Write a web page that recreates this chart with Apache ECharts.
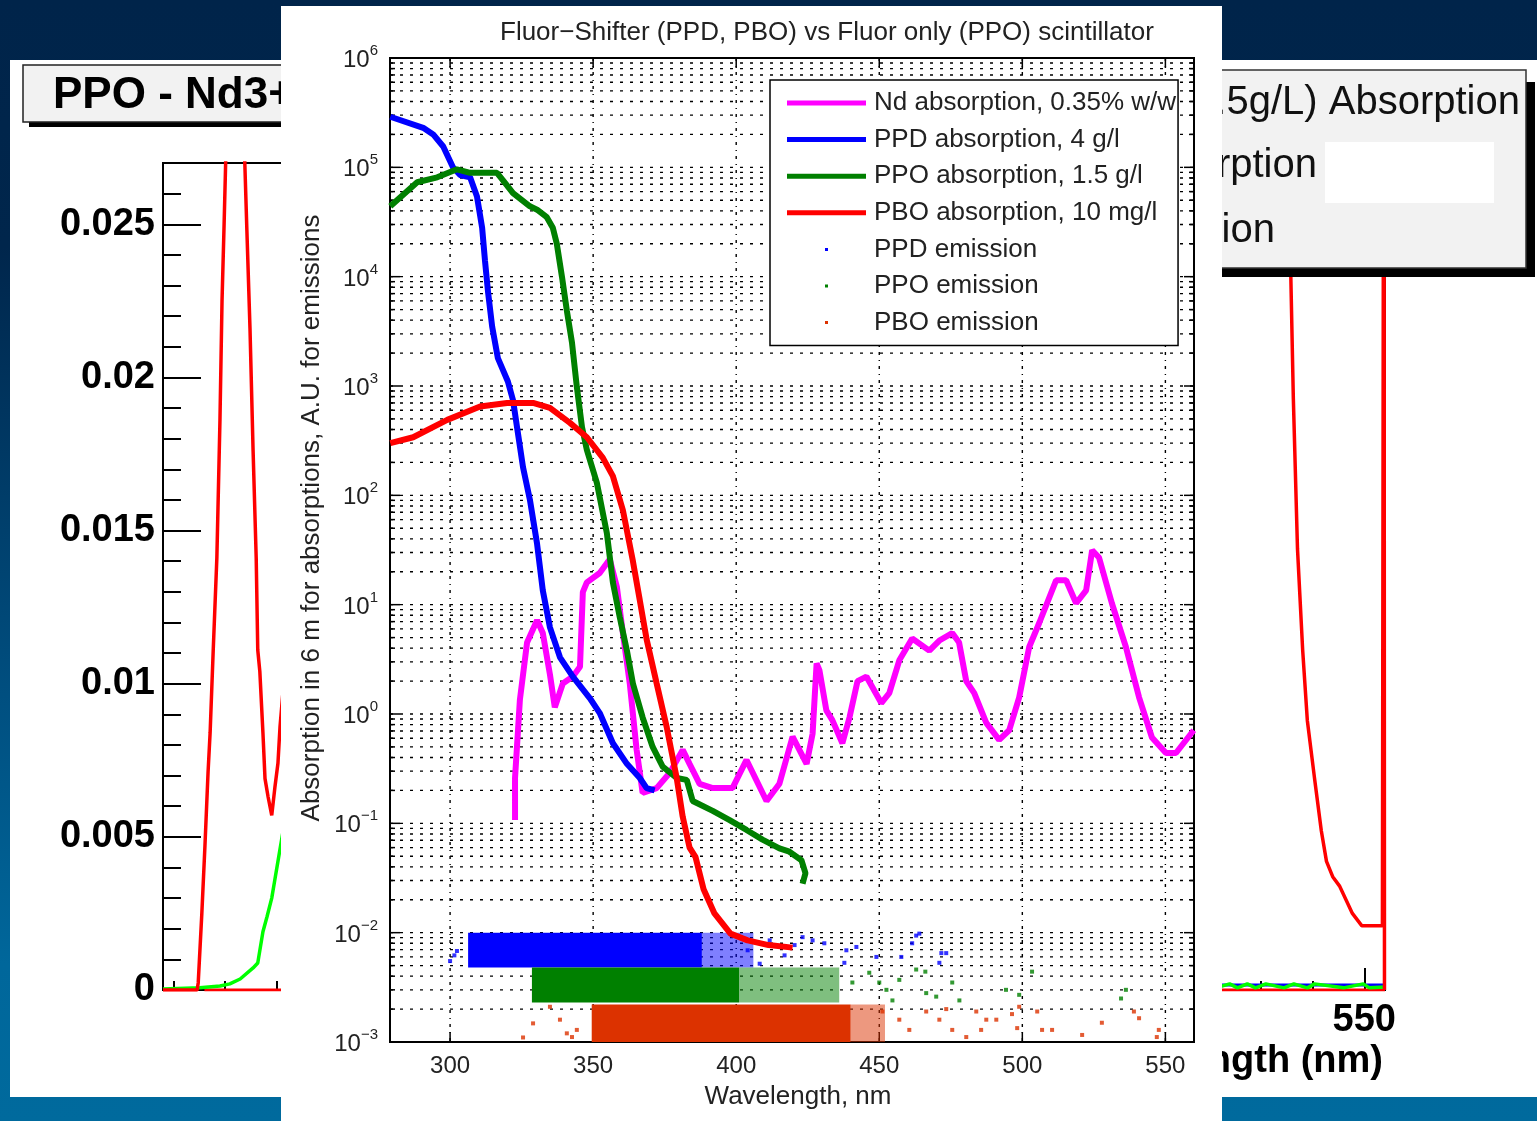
<!DOCTYPE html>
<html>
<head>
<meta charset="utf-8">
<title>Fluor-Shifter vs Fluor only scintillator</title>
<script src="https://cdn.jsdelivr.net/npm/echarts@6/dist/echarts.min.js"></script>
<style>
  html, body { margin: 0; padding: 0; }
  body {
    width: 1537px; height: 1121px; overflow: hidden; position: relative;
    background: linear-gradient(to bottom, #00244a 0%, #00264c 22%, #004f80 62%, #00679b 86%, #006a9d 100%);
  }
  #back { position: absolute; left: 10px; top: 60px; width: 1527px; height: 1037px; background: #fff; }
  #front { position: absolute; left: 281px; top: 6px; width: 941px; height: 1115px; background: #fff; }
</style>
</head>
<body>
<div id="back"></div>
<div id="front"></div>
<script>
// Fuentes disponibles sin red
const FONT = "'Liberation Sans', Arial, Helvetica, sans-serif";

// ---------- Gráfica del fondo (PPO - Nd3+, escala lineal) ----------
const backNdRed = [
  [318, 0], [324.6, 0], [324.8, 0.00023], [325.5, 0.0025], [326.1, 0.0047], [326.7, 0.0071],
  [327.1, 0.0084], [327.7, 0.0111], [328.4, 0.0141], [329.0, 0.0186], [329.4, 0.0225],
  [329.8, 0.025], [330.4, 0.029], [331.5, 0.034], [333.0, 0.031], [333.8, 0.027],
  [334.2, 0.0248], [334.8, 0.0216], [335.4, 0.0176], [336.0, 0.0141], [336.3, 0.0111],
  [336.7, 0.0104], [337.3, 0.0084], [337.7, 0.0069], [338.3, 0.0063], [339.0, 0.0057],
  [339.6, 0.0066], [340.2, 0.0074], [340.6, 0.0086], [341.2, 0.0098], [345, 0.02],
  [522, 0.04], [535.4, 0.03], [535.8, 0.0234], [536.3, 0.0193], [537.1, 0.0144],
  [538.1, 0.0111], [539.0, 0.0088], [540.4, 0.0069], [541.7, 0.0052], [542.7, 0.0042],
  [543.9, 0.0037], [545.2, 0.0034], [546.6, 0.0029], [547.7, 0.0025], [549.5, 0.0021],
  [553.5, 0.0021], [553.8, 0.04], [553.9, 0]
];
const backGreen = [
  [318, 0.00003], [325.1, 0.00007], [329.0, 0.00013], [330.9, 0.0002], [332.9, 0.00036],
  [335.4, 0.00072], [336.3, 0.00088], [337.3, 0.0019], [338.1, 0.0024], [339.0, 0.003],
  [339.6, 0.0036], [340.6, 0.0046], [342, 0.006], [420, 0.0004], [522, 0.0001],
  [524, 0.0002], [525.5, 0.00007], [527.4, 0.0002], [529, 0.00007], [531, 0.0002],
  [534.5, 0.00007], [536.4, 0.0002], [539, 0.00007], [540.4, 0.0002], [546, 0.00007],
  [549.8, 0.0002], [551, 0.00007], [554, 0.0001]
];
const backBlue = [[400, 0.00016], [554, 0.00016]];
const backRedBase = [[326, 0], [554, 0]];
const backYTicks = [0, 0.005, 0.01, 0.015, 0.02, 0.025];
const backXTicks = [350, 400, 450, 500, 550];

// ---------- Gráfica principal (escala logarítmica) ----------
const ndAbsorption = [
  [322.7, 0.107], [322.7, 0.26], [324.4, 1.35], [326.9, 4.5], [330.4, 7.2], [332.4, 5.5],
  [334.9, 2.3], [336.6, 1.15], [339.4, 1.9], [342.9, 2.2], [345.4, 2.7], [346.4, 13],
  [347.8, 16], [352.3, 19.5], [355.8, 26], [358.3, 14.5], [360.4, 5.5], [362.8, 1.9],
  [365.2, 0.47], [367.3, 0.19], [372.2, 0.21], [376.8, 0.29], [381.3, 0.47], [383.7, 0.35],
  [387.2, 0.23], [391.8, 0.21], [398.7, 0.21], [403.6, 0.38], [410.6, 0.16], [415.1, 0.23],
  [419.7, 0.62], [424.6, 0.35], [426.7, 0.66], [428.1, 2.9], [429.1, 2.5], [431.5, 1.08],
  [433.6, 0.88], [437.1, 0.54], [439.6, 0.93], [442.4, 2.0], [445.5, 2.2], [450.7, 1.26],
  [453.5, 1.55], [457.0, 3.1], [461.5, 4.9], [467.5, 3.8], [471.0, 4.7], [475.5, 5.5],
  [477.9, 4.5], [480.4, 2.0], [483.2, 1.55], [487.4, 0.83], [491.9, 0.58], [495.4, 0.71],
  [498.9, 1.42], [502.4, 4.1], [505.9, 6.8], [511.8, 16.7], [515.3, 16.7], [518.8, 10.3],
  [522.3, 13.5], [524.4, 31.5], [526.8, 27], [531.3, 10.3], [536.2, 4.1], [540.8, 1.42],
  [545.3, 0.61], [550.2, 0.44], [553.7, 0.44], [559.9, 0.71]
];
const ppdAbsorption = [
  [279.1, 2.9e5], [290.6, 2.3e5], [294.1, 2.0e5], [297.6, 1.55e5], [301.0, 1.0e5],
  [303.5, 8.5e4], [307.0, 8.1e4], [309.4, 5.4e4], [311.2, 2.8e4], [312.2, 1.4e4],
  [313.3, 7.1e3], [314.7, 3.5e3], [316.7, 1.8e3], [320.2, 1.1e3], [322.0, 740],
  [323.4, 420], [325.5, 180], [327.9, 91], [330.4, 36], [332.4, 13.5], [334.9, 6.2],
  [338.4, 3.3], [342.9, 2.2], [348.8, 1.4], [352.3, 1.02], [356.9, 0.54], [361.8, 0.35],
  [366.3, 0.26], [368.7, 0.21], [371.5, 0.20]
];
const ppoAbsorption = [
  [279.1, 4.4e4], [288.5, 7.3e4], [295.5, 8.1e4], [302.4, 9.6e4], [307.0, 8.9e4],
  [316.4, 8.9e4], [318.5, 7.6e4], [322.0, 5.8e4], [327.9, 4.4e4], [330.4, 4.1e4],
  [333.8, 3.5e4], [335.9, 2.8e4], [337.3, 2.0e4], [339.1, 1.0e4], [340.8, 4.9e3],
  [342.6, 2.5e3], [344.3, 980], [346.1, 420], [347.8, 260], [351.3, 130], [354.8, 45],
  [356.9, 16], [359.3, 7.7], [361.8, 3.8], [363.9, 1.9], [367.3, 0.93], [370.8, 0.50],
  [374.3, 0.33], [379.2, 0.26], [382.7, 0.25], [384.8, 0.16], [391.8, 0.13],
  [397.7, 0.107], [403.6, 0.087], [409.2, 0.071], [415.1, 0.059], [418.6, 0.055],
  [422.8, 0.046], [424.2, 0.035], [423.2, 0.028]
];
const pboAbsorption = [
  [279.1, 300], [287.1, 340], [299.0, 490], [310.5, 650], [319.9, 700], [329.0, 700],
  [334.9, 630], [341.9, 460], [347.8, 340], [353.4, 220], [356.9, 150], [360.4, 73],
  [363.9, 25], [366.3, 11], [368.7, 4.8], [372.2, 1.9], [375.7, 0.76], [379.2, 0.26],
  [381.3, 0.115], [383.7, 0.060], [385.8, 0.049], [388.6, 0.025], [392.4, 0.015],
  [398.0, 0.0098], [404.0, 0.0085], [411.3, 0.0077], [419.7, 0.0073]
];

// Emisiones: zona densa [nm inicio, nm fin, valor bajo, valor alto] y puntos sueltos
const ppdEmissionBand = [[306.3, 388, 0.0048, 0.0100], [388, 406, 0.0048, 0.0100]];
const ppoEmissionBand = [[328.6, 401, 0.0023, 0.0048], [401, 436, 0.0023, 0.0048]];
const pboEmissionBand = [[349.5, 440, 0.001, 0.0022], [440, 452, 0.001, 0.0022]];
const ppdEmissionDots = [
  [300.0, 0.0055], [301.5, 0.0062], [302.4, 0.0068], [404.0, 0.0069], [408.2, 0.0052],
  [411.7, 0.0085], [416.9, 0.0062], [420.4, 0.0077], [423.2, 0.0091], [426.7, 0.0085],
  [430.8, 0.0080], [437.8, 0.0053], [438.5, 0.0069], [442.0, 0.0074], [449.0, 0.0060],
  [457.7, 0.0060], [461.5, 0.0080], [462.9, 0.0094], [464.0, 0.0098], [471.0, 0.0053],
  [471.7, 0.0065], [473.4, 0.0065]
];
const ppoEmissionDots = [
  [440.6, 0.0035], [446.5, 0.0043], [450.0, 0.0035], [452.5, 0.0030], [454.6, 0.0024],
  [457.0, 0.0037], [462.9, 0.0046], [466.1, 0.0044], [466.4, 0.0028], [469.9, 0.0026],
  [475.5, 0.0035], [478.0, 0.0024], [494.3, 0.0030], [498.9, 0.0027], [503.4, 0.0044],
  [534.5, 0.0025], [536.2, 0.0030]
];
const pboEmissionDots = [
  [325.5, 0.0011], [329.0, 0.00148], [334.9, 0.0021], [338.4, 0.0016], [340.8, 0.0012],
  [342.6, 0.00111], [344.3, 0.00129], [451.1, 0.0019], [457.0, 0.0016], [460.5, 0.00129],
  [466.4, 0.0019], [471.0, 0.0016], [473.4, 0.0020], [475.5, 0.00129], [480.4, 0.00111],
  [483.9, 0.0019], [485.6, 0.00129], [487.4, 0.0016], [490.9, 0.0016], [496.4, 0.0018],
  [498.2, 0.00134], [498.9, 0.0021], [505.2, 0.0019], [506.9, 0.00129], [510.4, 0.00129],
  [520.9, 0.00116], [527.8, 0.0015], [539.0, 0.0019], [540.8, 0.00165], [547.0, 0.00111],
  [547.7, 0.00129]
];

// Marcas de los ejes
const xTickValues = [300, 350, 400, 450, 500, 550];
const decadeExponents = [-3, -2, -1, 0, 1, 2, 3, 4, 5, 6];
const minorMultipliers = [1, 2, 3, 4, 5, 6, 7, 8, 9];

const X_MIN = 279;
const X_MAX = 560;

// Valores de la rejilla horizontal (décadas y subdivisiones)
const yGridValues = [];
decadeExponents.forEach((e, i) => {
  if (i === decadeExponents.length - 1) {
    yGridValues.push(Math.pow(10, e));
    return;
  }
  minorMultipliers.forEach((m) => yGridValues.push(m * Math.pow(10, e)));
});

// ---------- Dibujo de la gráfica del fondo ----------
function initBackChart() {
  const chart = echarts.init(document.getElementById("back"));
  const boldLabel = { fontFamily: FONT, fontWeight: "bold", fontSize: 38, color: "#000" };
  const legendText = (text, x, y) => ({
    type: "text", z: 103, x, y,
    style: { text, fontFamily: FONT, fontSize: 40, fill: "#111", align: "right", verticalAlign: "middle" },
  });

  chart.setOption({
    animation: false,
    grid: {
      left: 153, top: 103, width: 1222, height: 827,
      show: true, borderColor: "#000", borderWidth: 2, backgroundColor: "transparent",
    },
    xAxis: {
      type: "value", min: 318, max: 554, minInterval: 50, maxInterval: 50,
      axisLine: { lineStyle: { color: "#000", width: 2 } },
      axisTick: { inside: true, length: 22, lineStyle: { color: "#000", width: 2 }, customValues: backXTicks },
      minorTick: { show: true, splitNumber: 5, length: 9, lineStyle: { color: "#000", width: 2 } },
      axisLabel: Object.assign({ margin: 12, showMinLabel: false, showMaxLabel: false }, boldLabel),
      splitLine: { show: false },
    },
    yAxis: {
      type: "value", min: 0, max: 0.027, interval: 0.005,
      axisLine: { lineStyle: { color: "#000", width: 2 } },
      axisTick: { inside: true, length: 38, lineStyle: { color: "#000", width: 2 } },
      minorTick: { show: true, splitNumber: 5, length: 18, lineStyle: { color: "#000", width: 2 } },
      axisLabel: Object.assign({
        margin: 8, showMaxLabel: false,
        formatter: (v) => (backYTicks.indexOf(+v.toFixed(3)) >= 0 ? String(+v.toFixed(3)) : ""),
      }, boldLabel),
      splitLine: { show: false },
    },
    series: [
      { name: "Emission", type: "line", data: backRedBase, symbol: "none",
        lineStyle: { color: "#ff0000", width: 3 }, silent: true },
      { name: "PPD", type: "line", data: backBlue, symbol: "none",
        lineStyle: { color: "#0000ff", width: 3 }, silent: true },
      { name: "PPO", type: "line", data: backGreen, symbol: "none",
        lineStyle: { color: "#00ff00", width: 3.5 }, silent: true },
      { name: "Nd", type: "line", data: backNdRed, symbol: "none",
        lineStyle: { color: "#ff0000", width: 3.5 }, silent: true },
    ],
    graphic: [
      // Recuadro del título
      { type: "rect", z: 100, shape: { x: 19, y: 10, width: 420, height: 57 }, style: { fill: "#000" } },
      { type: "rect", z: 101, shape: { x: 13, y: 5, width: 420, height: 57 },
        style: { fill: "#f2f2f2", stroke: "#222", lineWidth: 1.5 } },
      { type: "text", z: 102, x: 43, y: 36,
        style: { text: "PPO - Nd3+ Absorption", fontFamily: FONT, fontWeight: "bold", fontSize: 44,
                 fill: "#000", verticalAlign: "middle" } },
      // Leyenda de la derecha
      { type: "rect", z: 100, shape: { x: 1148, y: 22, width: 377, height: 195 }, style: { fill: "#000" } },
      { type: "rect", z: 101, shape: { x: 1139, y: 10, width: 377, height: 198 },
        style: { fill: "#f2f2f2", stroke: "#333", lineWidth: 1.5 } },
      { type: "rect", z: 102, shape: { x: 1315, y: 82, width: 169, height: 61 }, style: { fill: "#fff" } },
      legendText("PPO (1.5g/L) Absorption", 1510, 43),
      legendText("Nd3+ Absorption", 1307, 106),
      legendText("PPO Emission", 1265, 171),
      // Título del eje X
      { type: "text", z: 100, x: 1373, y: 1002,
        style: { text: "Wavelength (nm)", fontFamily: FONT, fontWeight: "bold", fontSize: 38, fill: "#000",
                 align: "right", verticalAlign: "middle" } },
    ],
  });
  return chart;
}

// ---------- Dibujo de la gráfica principal ----------
function renderYGrid(params, api) {
  const cs = params.coordSys;
  const v = api.value(1);
  const y = api.coord([X_MIN, v])[1];
  const lg = Math.log10(v);
  const major = Math.abs(lg - Math.round(lg)) < 1e-6;
  const len = major ? 10 : 5;
  const children = [];
  if (y > cs.y + 1 && y < cs.y + cs.height - 1) {
    children.push({ type: "line", shape: { x1: cs.x, y1: y, x2: cs.x + cs.width, y2: y },
      style: { stroke: "#000", lineWidth: 1.4, lineDash: [3, 7] } });
  }
  children.push({ type: "line", shape: { x1: cs.x, y1: y, x2: cs.x + len, y2: y },
    style: { stroke: "#000", lineWidth: 1.5 } });
  children.push({ type: "line", shape: { x1: cs.x + cs.width - len, y1: y, x2: cs.x + cs.width, y2: y },
    style: { stroke: "#000", lineWidth: 1.5 } });
  return { type: "group", children };
}

function renderXGrid(params, api) {
  const cs = params.coordSys;
  const x = api.coord([api.value(0), 1])[0];
  return {
    type: "group",
    children: [
      { type: "line", shape: { x1: x, y1: cs.y, x2: x, y2: cs.y + cs.height },
        style: { stroke: "#000", lineWidth: 1.4, lineDash: [3, 5, 1, 5] } },
      { type: "line", shape: { x1: x, y1: cs.y + cs.height - 10, x2: x, y2: cs.y + cs.height },
        style: { stroke: "#000", lineWidth: 1.5 } },
      { type: "line", shape: { x1: x, y1: cs.y, x2: x, y2: cs.y + 10 },
        style: { stroke: "#000", lineWidth: 1.5 } },
    ],
  };
}

function renderBand(params, api) {
  const p1 = api.coord([api.value(0), api.value(3)]);
  const p2 = api.coord([api.value(1), api.value(2)]);
  return {
    type: "rect",
    shape: { x: p1[0], y: p1[1], width: p2[0] - p1[0], height: p2[1] - p1[1] },
    style: { fill: api.visual("color"), opacity: params.dataIndex === 0 ? 1 : 0.5 },
  };
}

function initFrontChart() {
  const chart = echarts.init(document.getElementById("front"));
  const dotIcon = "path://M0,0Z M38,1L41,1L41,4L38,4Z M79,5Z";

  const absorptionLine = (name, data, color) => ({
    name, type: "line", data, symbol: "none", showSymbol: false, z: 3,
    itemStyle: { color }, lineStyle: { color, width: 6 }, silent: true,
  });
  const emissionBand = (name, data, color) => ({
    name, type: "custom", data, renderItem: renderBand, encode: { x: [0, 1], y: [2, 3] },
    itemStyle: { color }, z: 2, silent: true,
  });
  const emissionDots = (name, data, color) => ({
    name, type: "scatter", data, symbol: "rect", symbolSize: 4,
    itemStyle: { color }, z: 2, silent: true,
  });

  chart.setOption({
    animation: false,
    title: {
      text: "Fluor\u2212Shifter (PPD, PBO) vs Fluor only (PPO) scintillator",
      left: 219, top: 14, padding: 0,
      textStyle: { fontFamily: FONT, fontSize: 26, fontWeight: "normal", color: "#222" },
    },
    grid: {
      left: 109, top: 52, width: 804, height: 984,
      show: true, borderColor: "#000", borderWidth: 2, backgroundColor: "transparent",
    },
    legend: {
      orient: "vertical", left: 489, top: 74, padding: [10, 2, 10, 17],
      itemWidth: 79, itemHeight: 5, itemGap: 10.6,
      backgroundColor: "#fff", borderColor: "#000", borderWidth: 1.5, borderRadius: 0,
      selectedMode: false,
      itemStyle: { borderWidth: 0 },
      textStyle: { fontFamily: FONT, fontSize: 26, color: "#222", lineHeight: 22, padding: [0, 0, 0, 3] },
      data: [
        { name: "Nd absorption, 0.35% w/w", icon: "rect" },
        { name: "PPD absorption, 4 g/l", icon: "rect" },
        { name: "PPO absorption, 1.5 g/l", icon: "rect" },
        { name: "PBO absorption, 10 mg/l", icon: "rect" },
        { name: "PPD emission", icon: dotIcon },
        { name: "PPO emission", icon: dotIcon },
        { name: "PBO emission", icon: dotIcon },
      ],
    },
    xAxis: {
      type: "value", min: X_MIN, max: X_MAX, minInterval: 50, maxInterval: 50,
      axisLine: { show: false }, axisTick: { show: false }, splitLine: { show: false },
      axisLabel: { fontFamily: FONT, fontSize: 24, color: "#222", margin: 12,
                   showMinLabel: false, showMaxLabel: false },
    },
    yAxis: {
      type: "log", logBase: 10, min: 0.001, max: 1e6, splitNumber: 9,
      axisLine: { show: false }, axisTick: { show: false }, splitLine: { show: false },
      axisLabel: {
        margin: 12,
        formatter: (v) => {
          const e = Math.round(Math.log10(v));
          return "{b|10}{s|" + (e < 0 ? "\u2212" + (-e) : e) + "}";
        },
        rich: {
          b: { fontFamily: FONT, fontSize: 24, color: "#222", padding: [5, 0, 0, 0], verticalAlign: "bottom" },
          s: { fontFamily: FONT, fontSize: 15, color: "#222", verticalAlign: "top" },
        },
      },
    },
    series: [
      { name: "yGrid", type: "custom", data: yGridValues.map((v) => [X_MIN, v]),
        renderItem: renderYGrid, z: 1, silent: true },
      { name: "xGrid", type: "custom", data: xTickValues.map((v) => [v, 1]),
        renderItem: renderXGrid, z: 1, silent: true },
      emissionBand("PPD emission", ppdEmissionBand, "#0000ff"),
      emissionDots("PPD emission", ppdEmissionDots, "#0000ff"),
      emissionBand("PPO emission", ppoEmissionBand, "#008000"),
      emissionDots("PPO emission", ppoEmissionDots, "#008000"),
      emissionBand("PBO emission", pboEmissionBand, "#dc3200"),
      emissionDots("PBO emission", pboEmissionDots, "#dc3200"),
      absorptionLine("Nd absorption, 0.35% w/w", ndAbsorption, "#ff00ff"),
      absorptionLine("PPD absorption, 4 g/l", ppdAbsorption, "#0000ff"),
      absorptionLine("PPO absorption, 1.5 g/l", ppoAbsorption, "#008000"),
      absorptionLine("PBO absorption, 10 mg/l", pboAbsorption, "#ff0000"),
    ],
    graphic: [
      { type: "text", x: 31, y: 512, rotation: Math.PI / 2,
        style: { text: "Absorption in 6 m for absorptions, A.U. for emissions", fontFamily: FONT,
                 fontSize: 26, fill: "#222", align: "center", verticalAlign: "middle" } },
      { type: "text", x: 517, y: 1091,
        style: { text: "Wavelength, nm", fontFamily: FONT, fontSize: 26, fill: "#222",
                 align: "center", verticalAlign: "middle" } },
    ],
  });
  return chart;
}

document.addEventListener("DOMContentLoaded", function () {
  window.backChart = initBackChart();
  window.frontChart = initFrontChart();
});
</script>
</body>
</html>
